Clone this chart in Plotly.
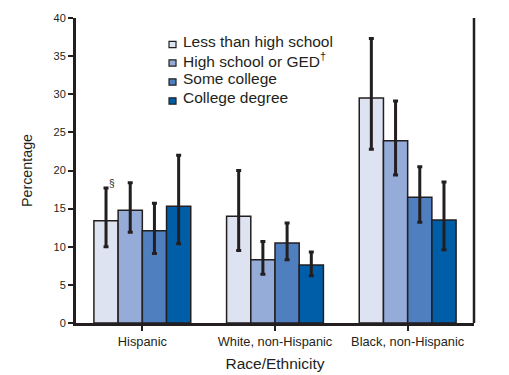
import plotly.graph_objects as go

categories = ["Hispanic", "White, non-Hispanic", "Black, non-Hispanic"]
series_names = ["Less than high school", "High school or GED<sup>†</sup>", "Some college", "College degree"]
values = [
    [13.4, 14.0, 29.5],
    [14.8, 8.3, 23.9],
    [12.1, 10.5, 16.5],
    [15.3, 7.6, 13.5],
]
ci_upper = [
    [17.7, 20.0, 37.3],
    [18.4, 10.7, 29.1],
    [15.7, 13.1, 20.5],
    [22.0, 9.3, 18.5],
]
ci_lower = [
    [10.0, 9.5, 22.8],
    [11.9, 6.4, 19.4],
    [9.1, 8.3, 13.2],
    [10.4, 6.2, 9.6],
]
colors = ["#dee3f1", "#94acd7", "#4f7fbf", "#005ea9"]
ink = "#231f20"

fig = go.Figure()
for i, name in enumerate(series_names):
    fig.add_trace(go.Bar(
        x=categories, y=values[i], name=name, showlegend=False,
        marker=dict(color=colors[i], line=dict(color=ink, width=1.5)),
        error_y=dict(type="data", symmetric=False,
                     array=[u - v for u, v in zip(ci_upper[i], values[i])],
                     arrayminus=[v - l for l, v in zip(ci_lower[i], values[i])],
                     color=ink, thickness=3, width=2.5),
    ))

# footnote symbol above first error bar
fig.add_annotation(x=categories[0], y=ci_upper[0][0], xref="x", yref="y",
                   text="§", showarrow=False, xshift=-30, yshift=5,
                   font=dict(size=10, color=ink))

# custom legend (small squares + labels)
leg_x_sq = (0.2337, 0.2513)
leg_x_txt = 0.2638
leg_y = [0.9131, 0.8525, 0.7902, 0.7279]
half_h = 0.0105
for i, name in enumerate(series_names):
    fig.add_shape(type="rect", xref="paper", yref="paper",
                  x0=leg_x_sq[0], x1=leg_x_sq[1],
                  y0=leg_y[i] - half_h, y1=leg_y[i] + half_h,
                  fillcolor=colors[i], line=dict(color=ink, width=1.2))
    fig.add_annotation(x=leg_x_txt, y=leg_y[i], xref="paper", yref="paper",
                       text=name, showarrow=False, xanchor="left", yanchor="middle",
                       yshift=3, font=dict(size=15.5, color=ink))

# right border
fig.add_shape(type="line", xref="paper", yref="paper", x0=1, x1=1, y0=0, y1=1,
              line=dict(color=ink, width=2.5))

fig.update_layout(
    width=501, height=367,
    margin=dict(l=68, r=35, t=10, b=52, pad=0),
    paper_bgcolor="white", plot_bgcolor="white",
    barmode="group", bargap=0.27, bargroupgap=0,
    font=dict(family="Liberation Sans, Arial, sans-serif", color=ink, size=12),
    showlegend=False,
    xaxis=dict(title=dict(text="Race/Ethnicity", font=dict(size=15.5), standoff=10),
               automargin=False,
               showline=True, linecolor=ink, linewidth=3,
               ticks="outside", ticklen=5, tickwidth=2, tickcolor=ink,
               tickfont=dict(size=12.8), showgrid=False),
    yaxis=dict(title=dict(text="Percentage", font=dict(size=14.3), standoff=18),
               automargin=False,
               range=[0, 40], dtick=5, showline=True, linecolor=ink, linewidth=3,
               ticks="outside", ticklen=5, tickwidth=2, tickcolor=ink,
               tickfont=dict(size=11), showgrid=False, zeroline=False),
)

fig.write_html("out.html")
